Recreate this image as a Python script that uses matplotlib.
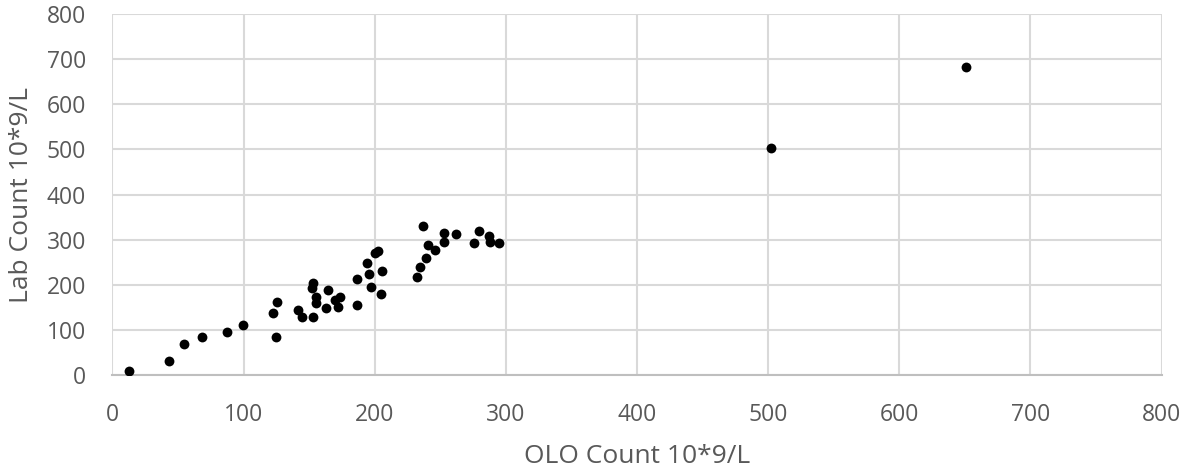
import matplotlib
matplotlib.use("Agg")
import matplotlib.pyplot as plt

# OLO count vs lab count, both 10*9/L
olo = [12.6, 43.3, 54.5, 68.0, 87.6, 99.3, 122.4, 125.7, 124.7,
       141.7, 144.3, 153.2, 153.2, 152.4, 155.0, 155.0, 162.6, 164.6,
       169.7, 173.5, 172.2, 186.7, 186.7, 194.4, 195.7, 197.2, 200.2,
       202.7, 205.8, 204.8, 232.0, 234.5, 238.9, 236.6, 240.9, 246.0,
       253.1, 253.1, 261.8, 275.7, 279.8, 287.4, 287.9, 294.8,
       502.3, 651.0]
lab = [9.5, 31.7, 68.8, 84.9, 94.7, 110.9, 136.8, 161.2, 84.9,
       144.2, 129.3, 129.3, 204.7, 192.3, 172.3, 159.0, 147.9, 188.5,
       166.3, 172.3, 151.5, 154.6, 213.6, 249.1, 224.0, 194.5, 271.2,
       275.0, 231.3, 179.6, 218.0, 240.2, 258.8, 330.4, 288.3, 277.2,
       314.3, 295.6, 312.7, 293.4, 319.4, 308.9, 295.6, 293.4,
       503.4, 683.0]

x_ticks = [0, 100, 200, 300, 400, 500, 600, 700, 800]
y_ticks = [0, 100, 200, 300, 400, 500, 600, 700, 800]

plt.rcParams['font.family'] = ['Open Sans', 'DejaVu Sans']

fig = plt.figure(figsize=(11.84, 4.70), dpi=100)
ax = fig.add_axes([0.095, 0.202, 0.886, 0.768])

ax.scatter(olo, lab, s=50, color='black', zorder=3, linewidths=0)

ax.set_xlim(0, 800)
ax.set_ylim(0, 800)
ax.set_xticks(x_ticks)
ax.set_yticks(y_ticks)
ax.grid(True, color='#d9d9d9', linewidth=1.5)
ax.set_axisbelow(True)

for side in ['top', 'right', 'left']:
    ax.spines[side].set_visible(False)
ax.spines['bottom'].set_color('#bfbfbf')
ax.spines['bottom'].set_linewidth(1.5)

ax.tick_params(axis='both', length=0, labelsize=16.5, labelcolor='#595959')
ax.tick_params(axis='y', pad=19)
ax.tick_params(axis='x', pad=20)

ax.set_xlabel('OLO Count 10*9/L', fontsize=19, color='#595959', labelpad=12)
ax.set_ylabel('Lab Count 10*9/L', fontsize=19, color='#595959', labelpad=9)

fig.savefig('out.png', dpi=100)
